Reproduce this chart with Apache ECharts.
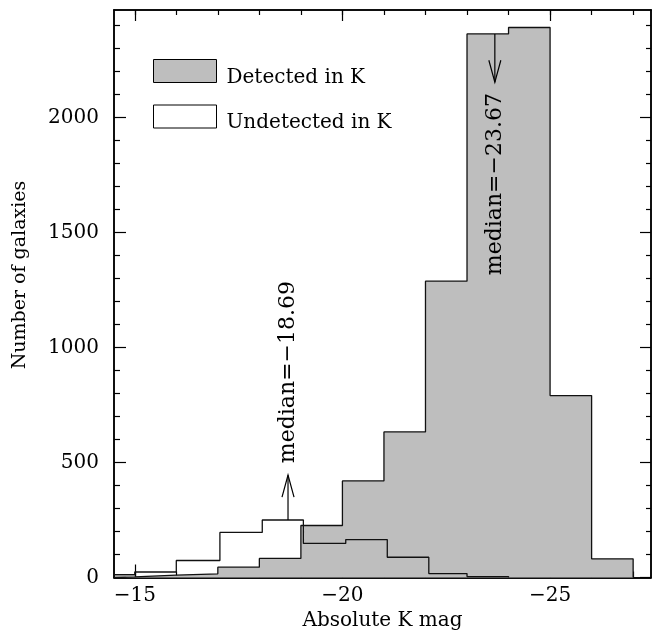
<!DOCTYPE html>
<html>
<head>
<meta charset="utf-8">
<script src="https://cdn.jsdelivr.net/npm/echarts@6/dist/echarts.min.js"></script>
<style>
  html, body { margin: 0; padding: 0; background: #fff; }
  #main { width: 657px; height: 637px; }
</style>
</head>
<body>
<div id="main"></div>
<script>
// bin edges (absolute K mag) and counts
var detectedEdges = [-14.5, -15, -16, -17, -18, -19, -20, -21, -22, -23, -24, -25, -26, -27];
var detectedCounts = [3, 10, 16, 45, 83, 226, 420, 633, 1288, 2363, 2391, 791, 81];

var undetectedEdges = [-14.5, -15, -16, -17.05, -18.07, -19.06, -20.08, -21.08, -22.08, -23.0, -24.0];
var undetectedCounts = [12, 24, 74, 196, 250, 148, 165, 88, 17, 4];

// medians with arrow start / tip and label centre (in counts)
var medianMags = [-18.69, -23.67];
var medianLabels = ['median=\u221218.69', 'median=\u221223.67'];
var arrowFrom = [250, 2363];
var arrowTo = [445, 2153];
var labelAt = [893, 1710];

var xMajorTicks = [-15, -20, -25];
var xMinorTicks = [-15, -16, -17, -18, -19, -20, -21, -22, -23, -24, -25, -26, -27];
var yMajorTicks = [0, 500, 1000, 1500, 2000];
var yMinorTicks = [100, 200, 300, 400, 600, 700, 800, 900, 1100, 1200, 1300, 1400,
                   1600, 1700, 1800, 1900, 2100, 2200, 2300, 2400];

var FONT = '"DejaVu Serif", "Liberation Serif", serif';
var X_MIN = -27.43, X_MAX = -14.5, Y_MIN = 0, Y_MAX = 2467;

function stepPoints(edges, counts) {
    var pts = [[edges[0], 0]];
    for (var i = 0; i < counts.length; i++) {
        pts.push([edges[i], counts[i]]);
        pts.push([edges[i + 1], counts[i]]);
    }
    pts.push([edges[edges.length - 1], 0]);
    return pts;
}

function minus(v) {
    return String(v).replace('-', '\u2212');
}

function xAxisDef(grid, pos, ticks, len, labels) {
    return {
        type: 'value', gridIndex: grid, position: pos,
        min: X_MIN, max: X_MAX, inverse: true,
        axisLine: { show: true, onZero: false, lineStyle: { color: '#000', width: 1.5 } },
        axisTick: { show: true, inside: true, length: len, customValues: ticks,
                    lineStyle: { color: '#000', width: 1.2 } },
        axisLabel: labels ? {
            show: true, customValues: xMajorTicks, margin: 8,
            fontFamily: FONT, fontSize: 20, color: '#000',
            formatter: minus
        } : { show: false },
        splitLine: { show: false },
        name: labels ? 'Absolute K mag' : '',
        nameLocation: 'middle', nameGap: 33,
        nameTextStyle: { fontFamily: FONT, fontSize: 20, color: '#000' }
    };
}

function yAxisDef(grid, pos, ticks, len, labels) {
    return {
        type: 'value', gridIndex: grid, position: pos,
        min: Y_MIN, max: Y_MAX,
        axisLine: { show: true, onZero: false, lineStyle: { color: '#000', width: 1.5 } },
        axisTick: { show: true, inside: true, length: len, customValues: ticks,
                    lineStyle: { color: '#000', width: 1.2 } },
        axisLabel: labels ? {
            show: true, customValues: yMajorTicks, margin: 15,
            fontFamily: FONT, fontSize: 20, color: '#000',
            formatter: function (v) { return String(v); }
        } : { show: false },
        splitLine: { show: false }
    };
}

var gridBox = { left: 114, right: 6, top: 10, bottom: 59.5 };

var myChart = echarts.init(document.getElementById('main'));

var option = {
    backgroundColor: '#fff',
    animation: false,
    grid: [gridBox, gridBox],
    xAxis: [
        xAxisDef(0, 'bottom', xMajorTicks, 13, true),
        xAxisDef(0, 'top', xMajorTicks, 11, false),
        xAxisDef(1, 'bottom', xMinorTicks, 6, false),
        xAxisDef(1, 'top', xMinorTicks, 5, false)
    ],
    yAxis: [
        yAxisDef(0, 'left', yMajorTicks, 12, true),
        yAxisDef(0, 'right', yMajorTicks, 11, false),
        yAxisDef(1, 'left', yMinorTicks, 6, false),
        yAxisDef(1, 'right', yMinorTicks, 5, false)
    ],
    legend: {
        orient: 'vertical',
        left: 153, top: 59,
        padding: 0,
        itemWidth: 63, itemHeight: 23, itemGap: 17,
        selectedMode: false,
        formatter: '{t|{name}}',
        textStyle: {
            fontFamily: FONT, fontSize: 20, color: '#000',
            rich: { t: { fontFamily: FONT, fontSize: 20, color: '#000', padding: [13, 0, 0, 5] } }
        },
        data: [
            { name: 'Detected in K', icon: 'rect',
              itemStyle: { color: '#bebebe', borderColor: '#000', borderWidth: 1 } },
            { name: 'Undetected in K', icon: 'rect',
              itemStyle: { color: '#fff', borderColor: '#000', borderWidth: 1 } }
        ]
    },
    graphic: [{
        type: 'text', x: 20, y: 275, rotation: Math.PI / 2,
        style: { text: 'Number of galaxies', font: '19px ' + FONT, fill: '#000',
                 align: 'center', verticalAlign: 'middle' }
    }],
    series: [
        {
            name: 'Detected in K', type: 'line',
            xAxisIndex: 0, yAxisIndex: 0,
            showSymbol: false, symbol: 'none',
            data: stepPoints(detectedEdges, detectedCounts),
            itemStyle: { color: '#bebebe', borderColor: '#000' },
            lineStyle: { color: '#111', width: 1.3 },
            areaStyle: { color: '#bebebe', opacity: 1 },
            z: 2
        },
        {
            name: 'Undetected in K', type: 'line',
            xAxisIndex: 0, yAxisIndex: 0,
            showSymbol: false, symbol: 'none',
            data: stepPoints(undetectedEdges, undetectedCounts),
            itemStyle: { color: '#fff', borderColor: '#000' },
            lineStyle: { color: '#111', width: 1.3 },
            z: 3
        },
        {
            type: 'custom',
            xAxisIndex: 0, yAxisIndex: 0,
            z: 4,
            data: medianMags.map(function (m, i) {
                return [m, arrowFrom[i], arrowTo[i], labelAt[i]];
            }),
            renderItem: function (params, api) {
                var base = api.coord([api.value(0), api.value(1)]);
                var tip = api.coord([api.value(0), api.value(2)]);
                var mid = api.coord([api.value(0), api.value(3)]);
                var dir = tip[1] < base[1] ? 1 : -1;
                var head = 22, half = 6;
                return {
                    type: 'group',
                    children: [
                        { type: 'line',
                          shape: { x1: base[0], y1: base[1], x2: tip[0], y2: tip[1] },
                          style: { stroke: '#000', lineWidth: 1.2 } },
                        { type: 'polyline',
                          shape: { points: [[tip[0] - half, tip[1] + dir * head], [tip[0], tip[1]],
                                            [tip[0] + half, tip[1] + dir * head]] },
                          style: { stroke: '#000', fill: null, lineWidth: 1.2 } },
                        { type: 'text', x: mid[0], y: mid[1], rotation: Math.PI / 2,
                          style: { text: medianLabels[params.dataIndex], font: '22px ' + FONT,
                                   fill: '#000', align: 'center', verticalAlign: 'middle' } }
                    ]
                };
            }
        }
    ]
};

myChart.setOption(option);
window.addEventListener('resize', myChart.resize);
</script>
</body>
</html>
